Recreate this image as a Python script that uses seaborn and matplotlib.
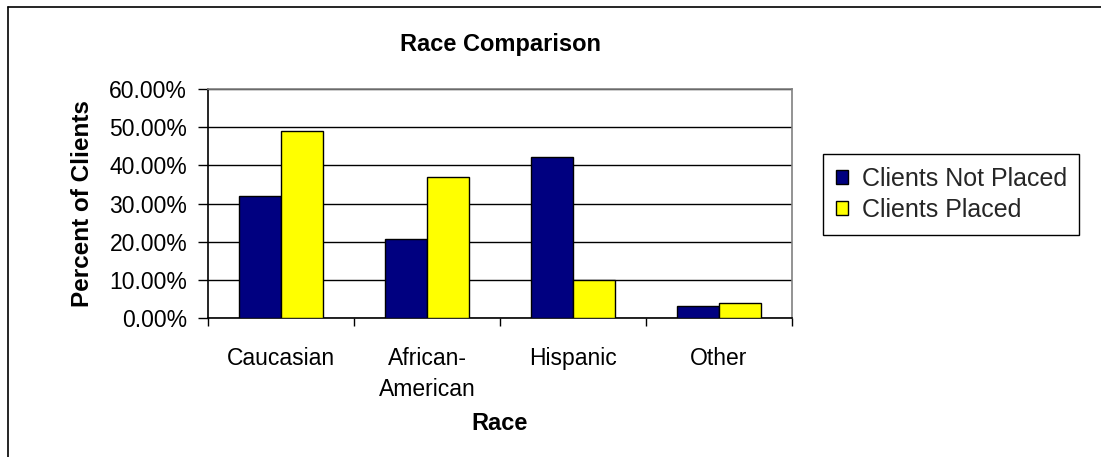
import matplotlib
matplotlib.use("Agg")
import matplotlib.pyplot as plt
from matplotlib.lines import Line2D
from matplotlib.patches import Patch
from matplotlib.ticker import FuncFormatter, MultipleLocator, FixedLocator
import seaborn as sns
import pandas as pd

# Data: share of clients by race
races = ["Caucasian", "African-\nAmerican", "Hispanic", "Other"]
not_placed = [32.0, 20.8, 42.3, 3.1]
placed = [49.0, 36.9, 10.1, 3.9]
series_names = ["Clients Not Placed", "Clients Placed"]
colors = ["#000080", "#FFFF00"]

df = pd.DataFrame({
    "Race": races * 2,
    "Percent": not_placed + placed,
    "Group": [series_names[0]] * len(races) + [series_names[1]] * len(races),
})

sns.set_theme(style="white")
plt.rcParams["font.family"] = ["Liberation Sans", "DejaVu Sans"]

W, H = 1101, 457
fig = plt.figure(figsize=(W / 100, H / 100), dpi=100)
fig.patch.set_facecolor("white")

left, right, top, bottom = 208, 792, 89, 318.3
ax = fig.add_axes([left / W, 1 - bottom / H, (right - left) / W, (bottom - top) / H])

sns.barplot(data=df, x="Race", y="Percent", hue="Group", order=races,
            hue_order=series_names, palette=colors, width=0.575, gap=0,
            edgecolor="black", linewidth=1.0, saturation=1, ax=ax, legend=False,
            zorder=3)

ax.set_xlim(-0.5, len(races) - 0.5)
ax.set_ylim(0, 60)
ax.yaxis.set_major_locator(MultipleLocator(10))
ax.yaxis.set_major_formatter(FuncFormatter(lambda v, p: f"{v:.2f}%"))
ax.grid(axis="y", color="black", linewidth=1.0, zorder=0)
ax.set_axisbelow(True)

# category boundary ticks below the axis
ax.xaxis.set_minor_locator(FixedLocator([i - 0.5 for i in range(len(races) + 1)]))
ax.tick_params(axis="x", which="major", length=0, pad=21, labelsize=16.5, colors="black")
ax.tick_params(axis="x", which="minor", length=6, width=1, color="black", direction="out", bottom=True)
ax.tick_params(axis="y", which="major", length=7, width=1, color="black", direction="out",
               left=True, labelsize=16.5, pad=8, labelcolor="black")
for lab in ax.get_xticklabels():
    lab.set_linespacing(1.4)

for s in ["top", "right"]:
    ax.spines[s].set_color("#808080")
    ax.spines[s].set_linewidth(1.2)
for s in ["left", "bottom"]:
    ax.spines[s].set_color("black")
    ax.spines[s].set_linewidth(1.2)

ax.set_xlabel("Race", fontsize=17, fontweight="bold", color="black")
ax.xaxis.label.set_va("center")
ax.xaxis.set_label_coords(0.5, (bottom - 424) / (bottom - top))
ax.set_ylabel("Percent of Clients", fontsize=17.5, fontweight="bold", color="black")
ax.yaxis.label.set_va("center")
ax.yaxis.set_label_coords((83 - left) / (right - left), 0.5)

fig.text((left + right) / 2 / W, 1 - 45 / H, "Race Comparison", ha="center", va="center",
         fontsize=17, fontweight="bold", color="black")

handles = [Patch(facecolor=c, edgecolor="black", linewidth=1) for c in colors]
fig.legend(handles, series_names, loc="upper left", bbox_to_anchor=(823 / W, 1 - 154 / H),
           frameon=True, fancybox=False, edgecolor="black", fontsize=18,
           handlelength=0.5, handleheight=0.5, handletextpad=0.55, borderpad=0.5,
           borderaxespad=0, labelspacing=0.3, framealpha=1)

# chart border along the top and left edges
fig.add_artist(Line2D([8 / W, 1], [1 - 7 / H, 1 - 7 / H], color="black", linewidth=1.2,
                      transform=fig.transFigure))
fig.add_artist(Line2D([8 / W, 8 / W], [0, 1 - 7 / H], color="black", linewidth=1.2,
                      transform=fig.transFigure))

fig.savefig("out.png", dpi=100, facecolor="white")
